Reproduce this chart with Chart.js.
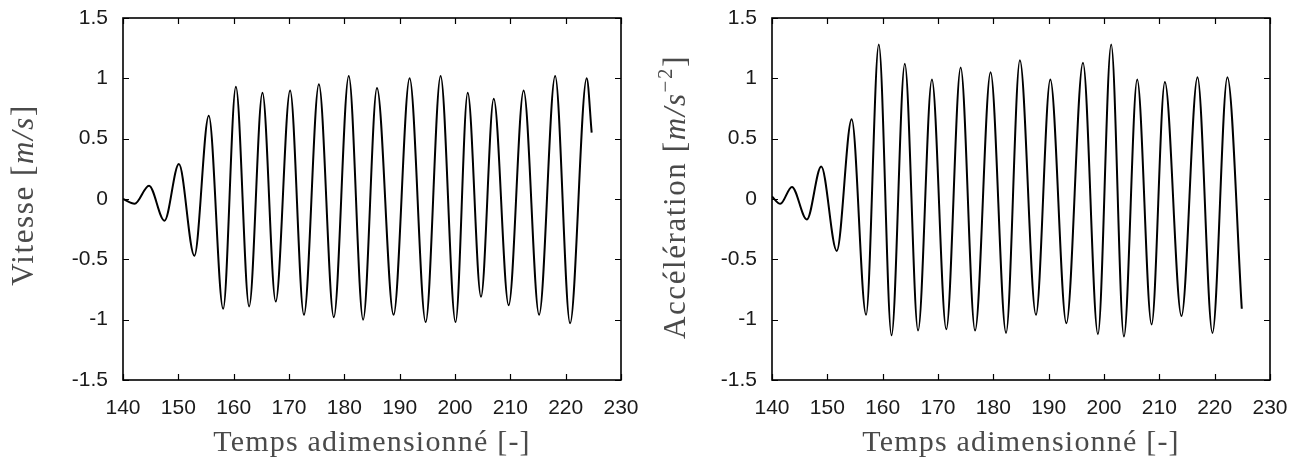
<!DOCTYPE html>
<html>
<head>
<meta charset="utf-8">
<script src="https://cdn.jsdelivr.net/npm/chart.js@4.4.1/dist/chart.umd.min.js"></script>
<style>
  body { margin: 0; background: #fff; }
  .panel { position: absolute; top: 0; width: 646px; height: 471px; }
</style>
</head>
<body>
<div class="panel" style="left:0"><canvas id="vit" width="646" height="471"></canvas></div>
<div class="panel" style="left:646px"><canvas id="acc" width="646" height="471"></canvas></div>
<script>
// values (peaks / troughs of each signal)
const xTicks = [140, 150, 160, 170, 180, 190, 200, 210, 220, 230];
const yTicks = [-1.5, -1, -0.5, 0, 0.5, 1, 1.5];

const velT = [140, 142.1, 144.7, 147.5, 150.1, 152.9, 155.5, 158.1, 160.4, 162.8,
  165.2, 167.6, 170.2, 172.7, 175.4, 178.1, 180.8, 183.4, 185.9, 188.9,
  191.8, 194.7, 197.4, 200.1, 202.3, 204.7, 207.0, 209.7, 212.4, 215.2,
  218.1, 220.8, 223.8, 224.7];
const velV = [0, -0.04, 0.11, -0.18, 0.29, -0.47, 0.69, -0.91, 0.93, -0.89,
  0.88, -0.85, 0.9, -0.96, 0.95, -0.98, 1.02, -1.0, 0.92, -0.96,
  1.0, -1.02, 1.02, -1.02, 0.88, -0.81, 0.83, -0.88, 0.9, -0.96,
  1.02, -1.03, 1.0, 0.55];

const accT = [140, 141.5, 143.6, 146.3, 148.9, 151.7, 154.4, 157.0, 159.3, 161.6,
  164.0, 166.4, 168.9, 171.5, 174.1, 176.7, 179.5, 182.3, 184.8, 187.7,
  190.3, 193.2, 196.2, 198.9, 201.3, 203.6, 206.0, 208.6, 211.0, 214.0,
  216.9, 219.6, 222.3, 224.9];
const accV = [0.02, -0.04, 0.1, -0.17, 0.27, -0.43, 0.66, -0.96, 1.28, -1.13,
  1.12, -1.09, 0.99, -1.08, 1.09, -1.09, 1.05, -1.11, 1.15, -0.96,
  0.99, -1.03, 1.13, -1.12, 1.28, -1.14, 0.99, -1.04, 0.97, -0.97,
  1.01, -1.11, 1.01, -0.91];

const xTitle = 'Temps adimensionné [-]';

const SERIF = '"Liberation Serif", "Times New Roman", serif';
const SANS = '"Liberation Sans", Arial, sans-serif';

// gnuplot-like frame with inward ticks on all four sides
const frameTicks = {
  id: 'frameTicks',
  afterDatasetsDraw(chart) {
    const { ctx, chartArea: a, scales: { x, y } } = chart;
    ctx.save();
    ctx.strokeStyle = '#000';
    ctx.lineWidth = 1.2;
    ctx.beginPath();
    xTicks.forEach(v => {
      const px = Math.round(x.getPixelForValue(v)) + 0.5;
      ctx.moveTo(px, a.bottom); ctx.lineTo(px, a.bottom - 6);
      ctx.moveTo(px, a.top); ctx.lineTo(px, a.top + 6);
    });
    yTicks.forEach(v => {
      const py = Math.round(y.getPixelForValue(v)) + 0.5;
      ctx.moveTo(a.left, py); ctx.lineTo(a.left + 6, py);
      ctx.moveTo(a.right, py); ctx.lineTo(a.right - 6, py);
    });
    ctx.stroke();
    ctx.lineWidth = 1.6;
    ctx.strokeRect(a.left, a.top, a.width, a.height);
    ctx.restore();
  }
};

function drawParts(ctx, parts) {
  let total = 0;
  parts.forEach(p => { ctx.font = p.font; total += ctx.measureText(p.text).width; });
  let cur = -total / 2;
  parts.forEach(p => {
    ctx.font = p.font;
    ctx.fillText(p.text, cur, p.dy || 0);
    cur += ctx.measureText(p.text).width;
  });
}

// axis titles, with italic units like the LaTeX original
const axisTitles = {
  id: 'axisTitles',
  afterDraw(chart, args, opts) {
    const { ctx, chartArea: a } = chart;
    ctx.save();
    ctx.fillStyle = '#4a4a4a';
    ctx.textAlign = 'left';
    ctx.textBaseline = 'alphabetic';
    ctx.letterSpacing = '1.2px';
    ctx.save();
    ctx.translate((a.left + a.right) / 2, 451);
    drawParts(ctx, [{ text: xTitle, font: '30px ' + SERIF }]);
    ctx.restore();
    ctx.letterSpacing = '1.6px';
    ctx.save();
    ctx.translate(opts.yx, opts.yy);
    ctx.rotate(-Math.PI / 2);
    drawParts(ctx, opts.yParts);
    ctx.restore();
    ctx.restore();
  }
};

function makeChart(id, xs, ys, yWidth, padRight, yParts, yx, yy) {
  const pts = xs.map((t, i) => ({ x: t, y: ys[i] }));
  return new Chart(document.getElementById(id), {
    type: 'line',
    data: {
      datasets: [{
        data: pts,
        borderColor: '#000',
        borderWidth: 2,
        pointRadius: 0,
        fill: false,
        cubicInterpolationMode: 'monotone',
      }],
    },
    options: {
      responsive: false,
      animation: false,
      devicePixelRatio: 1,
      layout: { padding: { top: 18, right: padRight, left: 0, bottom: 0 } },
      plugins: {
        legend: { display: false },
        tooltip: { enabled: false },
        axisTitles: { yParts, yx, yy },
      },
      scales: {
        x: {
          type: 'linear',
          min: 140, max: 230,
          afterBuildTicks: s => { s.ticks = xTicks.map(v => ({ value: v })); },
          afterFit: s => { s.height = 91; s.paddingLeft = 0; s.paddingRight = 0; },
          grid: { display: false, drawTicks: false },
          border: { display: false },
          ticks: { padding: 16, color: '#1a1a1a', font: { family: SANS, size: 21 }, maxRotation: 0, callback: v => String(v) },
        },
        y: {
          type: 'linear',
          min: -1.5, max: 1.5,
          afterBuildTicks: s => { s.ticks = yTicks.map(v => ({ value: v })); },
          afterFit: s => { s.width = yWidth; s.paddingTop = 0; s.paddingBottom = 0; },
          grid: { display: false, drawTicks: false },
          border: { display: false },
          ticks: { padding: 15, color: '#1a1a1a', font: { family: SANS, size: 21 }, callback: v => String(v) },
        },
      },
    },
    plugins: [frameTicks, axisTitles],
  });
}

makeChart('vit', velT, velV, 123, 25, [
  { text: 'Vitesse [', font: '31px ' + SERIF },
  { text: 'm/s', font: 'italic 31px ' + SERIF },
  { text: ']', font: '31px ' + SERIF },
], 33, 195);

makeChart('acc', accT, accV, 126, 22, [
  { text: 'Accélération [', font: '31px ' + SERIF },
  { text: 'm/s', font: 'italic 31px ' + SERIF },
  { text: '−2', font: '21px ' + SERIF, dy: -13 },
  { text: ']', font: '31px ' + SERIF },
], 39, 197);
</script>
</body>
</html>
